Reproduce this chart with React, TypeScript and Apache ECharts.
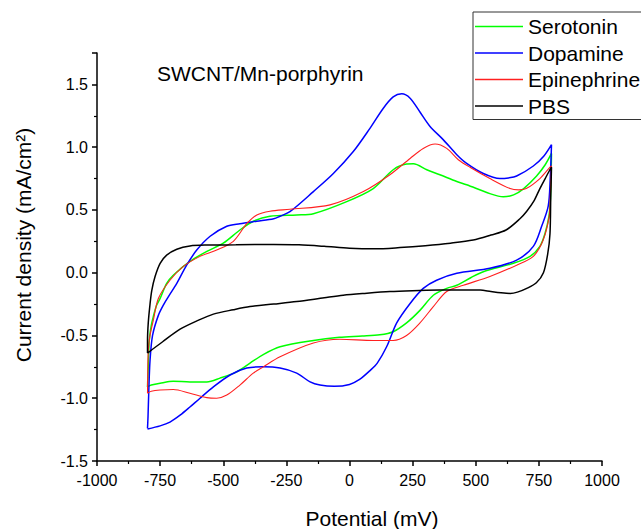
import React, { useEffect, useRef } from "react";
import * as echarts from "echarts";

// Potential (mV) and current density (mA/cm²), each a closed CV loop
const serotoninPotential = [
  -800, -797, -793, -785, -777, -764, -750, -724, -698, -632, -565, -500, -434, -381, -315, -209, -143, -11, 94, 173, 226, 253, 306, 358, 425, 464, 556, 609, 650, 690, 741, 775, 800,
  796, 790, 774, 754, 715, 649, 530, 480, 425, 385, 332, 279, 226, 173, 120, 50, -40, -143, -275, -340, -394, -447, -513, -565, -632, -698, -750, -785, -800,
];
const serotoninCurrent = [
  -0.91, -0.75, -0.54, -0.42, -0.35, -0.26, -0.205, -0.085, -0.02, 0.09, 0.17, 0.235, 0.34, 0.41, 0.45, 0.46, 0.47, 0.566, 0.67, 0.82, 0.865, 0.867, 0.82, 0.78, 0.726, 0.7, 0.63, 0.605, 0.62, 0.67, 0.77, 0.86, 0.95,
  0.6, 0.45, 0.31, 0.21, 0.13, 0.075, 0.008, -0.04, -0.1, -0.125, -0.18, -0.3, -0.4, -0.47, -0.495, -0.505, -0.515, -0.54, -0.59, -0.65, -0.72, -0.79, -0.84, -0.87, -0.87, -0.865, -0.88, -0.895, -0.91,
];

const dopaminePotential = [
  -800, -798, -795, -790, -780, -757, -735, -717, -684, -645, -605, -552, -486, -434, -367, -300, -275, -236, -143, -64, 15, 81, 134, 173, 207, 240, 279, 319, 371, 425, 464, 530, 596, 630, 662, 728, 770, 800,
  795, 787, 761, 728, 662, 556, 425, 345, 292, 240, 187, 147, 110, 81, 40, 0, -60, -117, -156, -209, -275, -341, -407, -473, -539, -592, -632, -671, -711, -750, -800,
];
const dopamineCurrent = [
  -1.24, -1.15, -0.95, -0.7, -0.5, -0.34, -0.25, -0.19, -0.085, 0.06, 0.18, 0.29, 0.37, 0.39, 0.41, 0.43, 0.45, 0.486, 0.646, 0.79, 0.965, 1.15, 1.31, 1.4, 1.425, 1.39, 1.28, 1.165, 1.06, 0.94, 0.87, 0.79, 0.75, 0.755, 0.77, 0.85, 0.93, 1.02,
  0.75, 0.53, 0.37, 0.21, 0.1, 0.035, -0.005, -0.06, -0.125, -0.245, -0.4, -0.59, -0.72, -0.78, -0.85, -0.89, -0.905, -0.895, -0.87, -0.8, -0.76, -0.75, -0.76, -0.815, -0.91, -1.0, -1.07, -1.135, -1.19, -1.22, -1.245,
];

const epinephrinePotential = [
  -800, -799, -797, -790, -777, -757, -711, -658, -592, -526, -460, -407, -367, -315, -236, -77, 55, 160, 240, 292, 339, 385, 431, 477, 556, 636, 670, 700, 754, 794, 800,
  795, 791, 767, 728, 662, 556, 451, 385, 332, 279, 226, 173, 94, -38, -143, -275, -341, -381, -434, -486, -526, -565, -632, -698, -750, -785, -800,
];
const epinephrineCurrent = [
  -0.96, -0.8, -0.62, -0.5, -0.38, -0.205, -0.06, 0.05, 0.13, 0.18, 0.25, 0.39, 0.46, 0.49, 0.505, 0.54, 0.646, 0.78, 0.91, 0.99, 1.025, 0.99, 0.9, 0.84, 0.75, 0.67, 0.66, 0.67, 0.75, 0.84, 0.85,
  0.6, 0.45, 0.26, 0.13, 0.06, -0.03, -0.1, -0.15, -0.27, -0.4, -0.5, -0.54, -0.54, -0.53, -0.56, -0.67, -0.75, -0.8, -0.895, -0.975, -1.0, -0.995, -0.96, -0.93, -0.935, -0.945, -0.96,
];

const pbsPotential = [
  -800, -800, -797, -790, -783, -770, -750, -724, -684, -632, -565, -450, -300, -200, -100, 0, 100, 200, 300, 400, 490, 560, 620, 675, 702, 730, 754, 775, 791, 800,
  797, 794, 785, 768, 740, 702, 665, 636, 600, 560, 517, 450, 358, 250, 160, 60, -25, -100, -209, -300, -394, -460, -539, -600, -671, -740, -800,
];
const pbsCurrent = [
  -0.64, -0.55, -0.4, -0.25, -0.14, -0.03, 0.075, 0.14, 0.187, 0.213, 0.22, 0.222, 0.225, 0.222, 0.21, 0.195, 0.19, 0.2, 0.215, 0.235, 0.26, 0.3, 0.34, 0.43, 0.49, 0.57, 0.67, 0.75, 0.81, 0.84,
  0.6, 0.31, 0.15, 0.0, -0.08, -0.125, -0.155, -0.165, -0.16, -0.15, -0.138, -0.137, -0.138, -0.143, -0.15, -0.165, -0.18, -0.2, -0.23, -0.25, -0.27, -0.295, -0.33, -0.38, -0.45, -0.55, -0.64,
];

const seriesNames = ["Serotonin", "Dopamine", "Epinephrine", "PBS"];
const seriesColors = ["#00ff00", "#0000ff", "#ff2020", "#000000"];
const seriesWidths = [1.5, 1.5, 1.1, 1.5];

const FONT = 'Arial, "Liberation Sans", Helvetica, sans-serif';

function pairs(x: number[], y: number[]) {
  return x.map((v, i) => [v, y[i]]);
}

export default function App() {
  const ref = useRef<HTMLDivElement>(null);
  useEffect(() => {
    document.body.style.margin = "0";
    const chart = echarts.init(ref.current!, null, { renderer: "svg" });
    const datasets = [
      pairs(serotoninPotential, serotoninCurrent),
      pairs(dopaminePotential, dopamineCurrent),
      pairs(epinephrinePotential, epinephrineCurrent),
      pairs(pbsPotential, pbsCurrent),
    ];
    chart.setOption({
      animation: false,
      backgroundColor: "#ffffff",
      textStyle: { fontFamily: FONT },
      grid: { left: 97, right: 39, top: 53, bottom: 68 },
      legend: {
        orient: "vertical",
        left: 473,
        top: 12,
        data: seriesNames,
        icon: "rect",
        itemWidth: 48,
        itemHeight: 1.6,
        itemGap: 5.5,
        padding: [4, 40, 3, 2],
        borderColor: "#333",
        borderWidth: 1,
        textStyle: { fontSize: 21, color: "#000", fontFamily: FONT },
      },
      xAxis: {
        type: "value",
        min: -1000,
        max: 1000,
        interval: 250,
        axisLine: { onZero: false, lineStyle: { color: "#000", width: 1.5 } },
        axisTick: { show: true, inside: false, length: 5, lineStyle: { color: "#000", width: 1.5 } },
        minorTick: { show: true, splitNumber: 2, length: 3, lineStyle: { color: "#000", width: 1.2 } },
        splitLine: { show: false },
        axisLabel: { fontSize: 16, color: "#000", margin: 11, fontFamily: FONT, formatter: (v: number) => String(v) },
      },
      yAxis: {
        type: "value",
        min: -1.5,
        max: 1.75,
        interval: 0.5,
        axisLine: { onZero: false, lineStyle: { color: "#000", width: 1.5 } },
        axisTick: { show: true, inside: false, length: 5, lineStyle: { color: "#000", width: 1.5 } },
        minorTick: { show: true, splitNumber: 2, length: 3, lineStyle: { color: "#000", width: 1.2 } },
        splitLine: { show: false },
        axisLabel: {
          fontSize: 16,
          color: "#000",
          margin: 9,
          fontFamily: FONT,
          formatter: (v: number) => (v > 1.6 ? "" : v.toFixed(1)),
        },
      },
      graphic: [
        {
          type: "text",
          x: 157,
          y: 73,
          style: { text: "SWCNT/Mn-porphyrin", fill: "#000", font: `21px ${FONT}`, textAlign: "left", textVerticalAlign: "middle", verticalAlign: "middle" },
        },
        {
          type: "text",
          x: 372,
          y: 518,
          style: { text: "Potential (mV)", fill: "#000", font: `21px ${FONT}`, textAlign: "center", textVerticalAlign: "middle", verticalAlign: "middle" },
        },
        {
          type: "text",
          x: 23,
          y: 245,
          rotation: Math.PI / 2,
          style: { text: "Current density (mA/cm²)", fill: "#000", font: `21px ${FONT}`, textAlign: "center", textVerticalAlign: "middle", verticalAlign: "middle" },
        },
      ],
      series: datasets.map((d, i) => ({
        name: seriesNames[i],
        type: "line",
        data: d,
        symbol: "none",
        smooth: 0.3,
        clip: false,
        lineStyle: { color: seriesColors[i], width: seriesWidths[i] },
        itemStyle: { color: seriesColors[i] },
      })),
    });
    return () => chart.dispose();
  }, []);
  return <div ref={ref} style={{ width: 641, height: 529 }} />;
}
